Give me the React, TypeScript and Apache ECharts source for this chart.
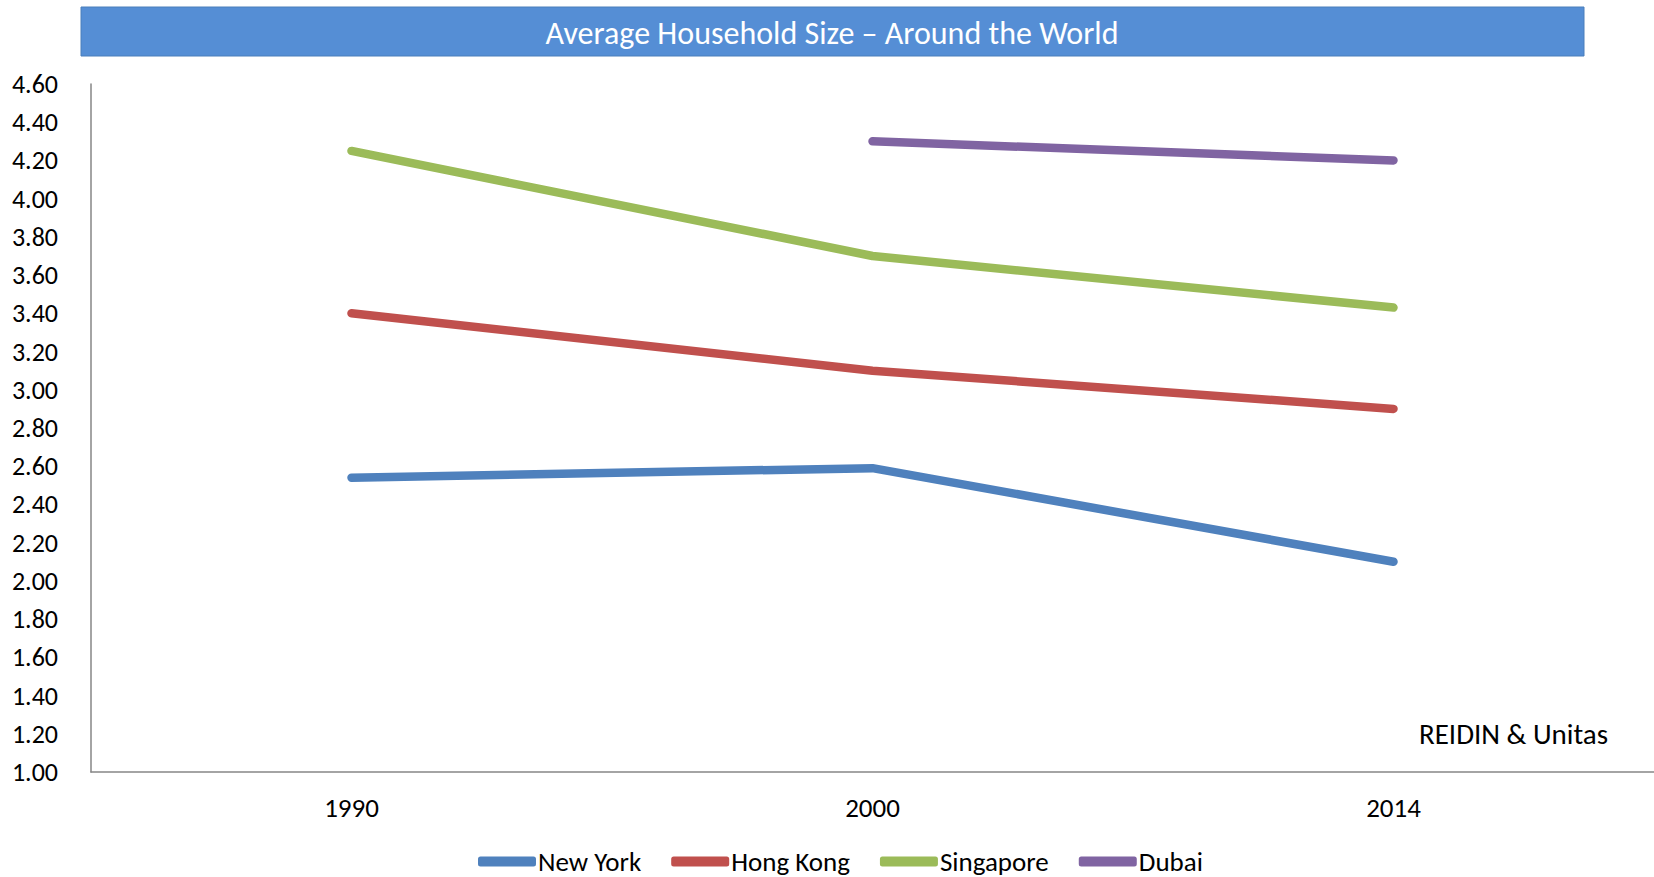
import React, { useEffect, useRef } from "react";
import * as echarts from "echarts";

const years = ["1990", "2000", "2014"];
const newYork = [2.54, 2.59, 2.1];
const hongKong = [3.4, 3.1, 2.9];
const singapore = [4.25, 3.7, 3.43];
const dubai: (number | null)[] = [null, 4.3, 4.2];

const seriesNames = ["New York", "Hong Kong", "Singapore", "Dubai"];
const seriesColors = ["#4F81BD", "#C0504D", "#9BBB59", "#8064A2"];

const FONT = "Carlito, 'Liberation Sans Narrow', 'Open Sans', sans-serif";

export default function App() {
  const ref = useRef<HTMLDivElement>(null);

  useEffect(() => {
    if (!ref.current) return;
    document.body.style.margin = "0";
    document.body.style.overflow = "hidden";
    const chart = echarts.init(ref.current, undefined, { renderer: "svg" });
    const values = [newYork, hongKong, singapore, dubai];

    chart.setOption({
      animation: false,
      backgroundColor: "#ffffff",
      textStyle: { fontFamily: FONT },
      graphic: [
        {
          type: "rect",
          shape: { x: 81, y: 7, width: 1503, height: 49 },
          style: { fill: "#558ED5", stroke: "#4A7EBB", lineWidth: 1 },
          z: 0,
        },
        {
          type: "text",
          x: 832,
          y: 33,
          style: {
            text: "Average Household Size – Around the World",
            fill: "#ffffff",
            font: `32px ${FONT}`,
            align: "center",
            verticalAlign: "middle",
          },
          z: 1,
        },
        {
          type: "text",
          x: 1608,
          y: 734,
          style: {
            text: "REIDIN & Unitas",
            fill: "#000000",
            font: `29px ${FONT}`,
            align: "right",
            verticalAlign: "middle",
          },
        },
      ],
      grid: { left: 91, right: 0, top: 84, bottom: 105, containLabel: false },
      legend: {
        top: 848,
        left: 478,
        padding: 0,
        icon: "roundRect",
        itemWidth: 58,
        itemHeight: 10,
        itemGap: 30,
        data: seriesNames,
        textStyle: { fontSize: 27, color: "#000000", fontFamily: FONT, padding: [0, 0, 0, -3] },
      },
      xAxis: {
        type: "category",
        data: years,
        boundaryGap: true,
        axisLine: { lineStyle: { color: "#868686", width: 1.5 } },
        axisTick: { show: false },
        axisLabel: { fontSize: 27, color: "#000000", margin: 22, fontFamily: FONT },
      },
      yAxis: {
        type: "value",
        min: 1,
        max: 4.6,
        interval: 0.2,
        axisLine: { show: true, lineStyle: { color: "#868686", width: 1.5 } },
        axisTick: { show: false },
        splitLine: { show: false },
        axisLabel: {
          fontSize: 26,
          color: "#000000",
          margin: 33,
          fontFamily: FONT,
          formatter: (v: number) => v.toFixed(2),
        },
      },
      series: seriesNames.map((name, i) => ({
        name,
        type: "line",
        data: values[i],
        symbol: "none",
        connectNulls: false,
        itemStyle: { color: seriesColors[i] },
        lineStyle: { color: seriesColors[i], width: 8.5, cap: "round", join: "round" },
      })),
    });

    return () => chart.dispose();
  }, []);

  return (
    <div
      ref={ref}
      style={{ position: "fixed", left: 0, top: 0, width: 1654, height: 877 }}
    />
  );
}
